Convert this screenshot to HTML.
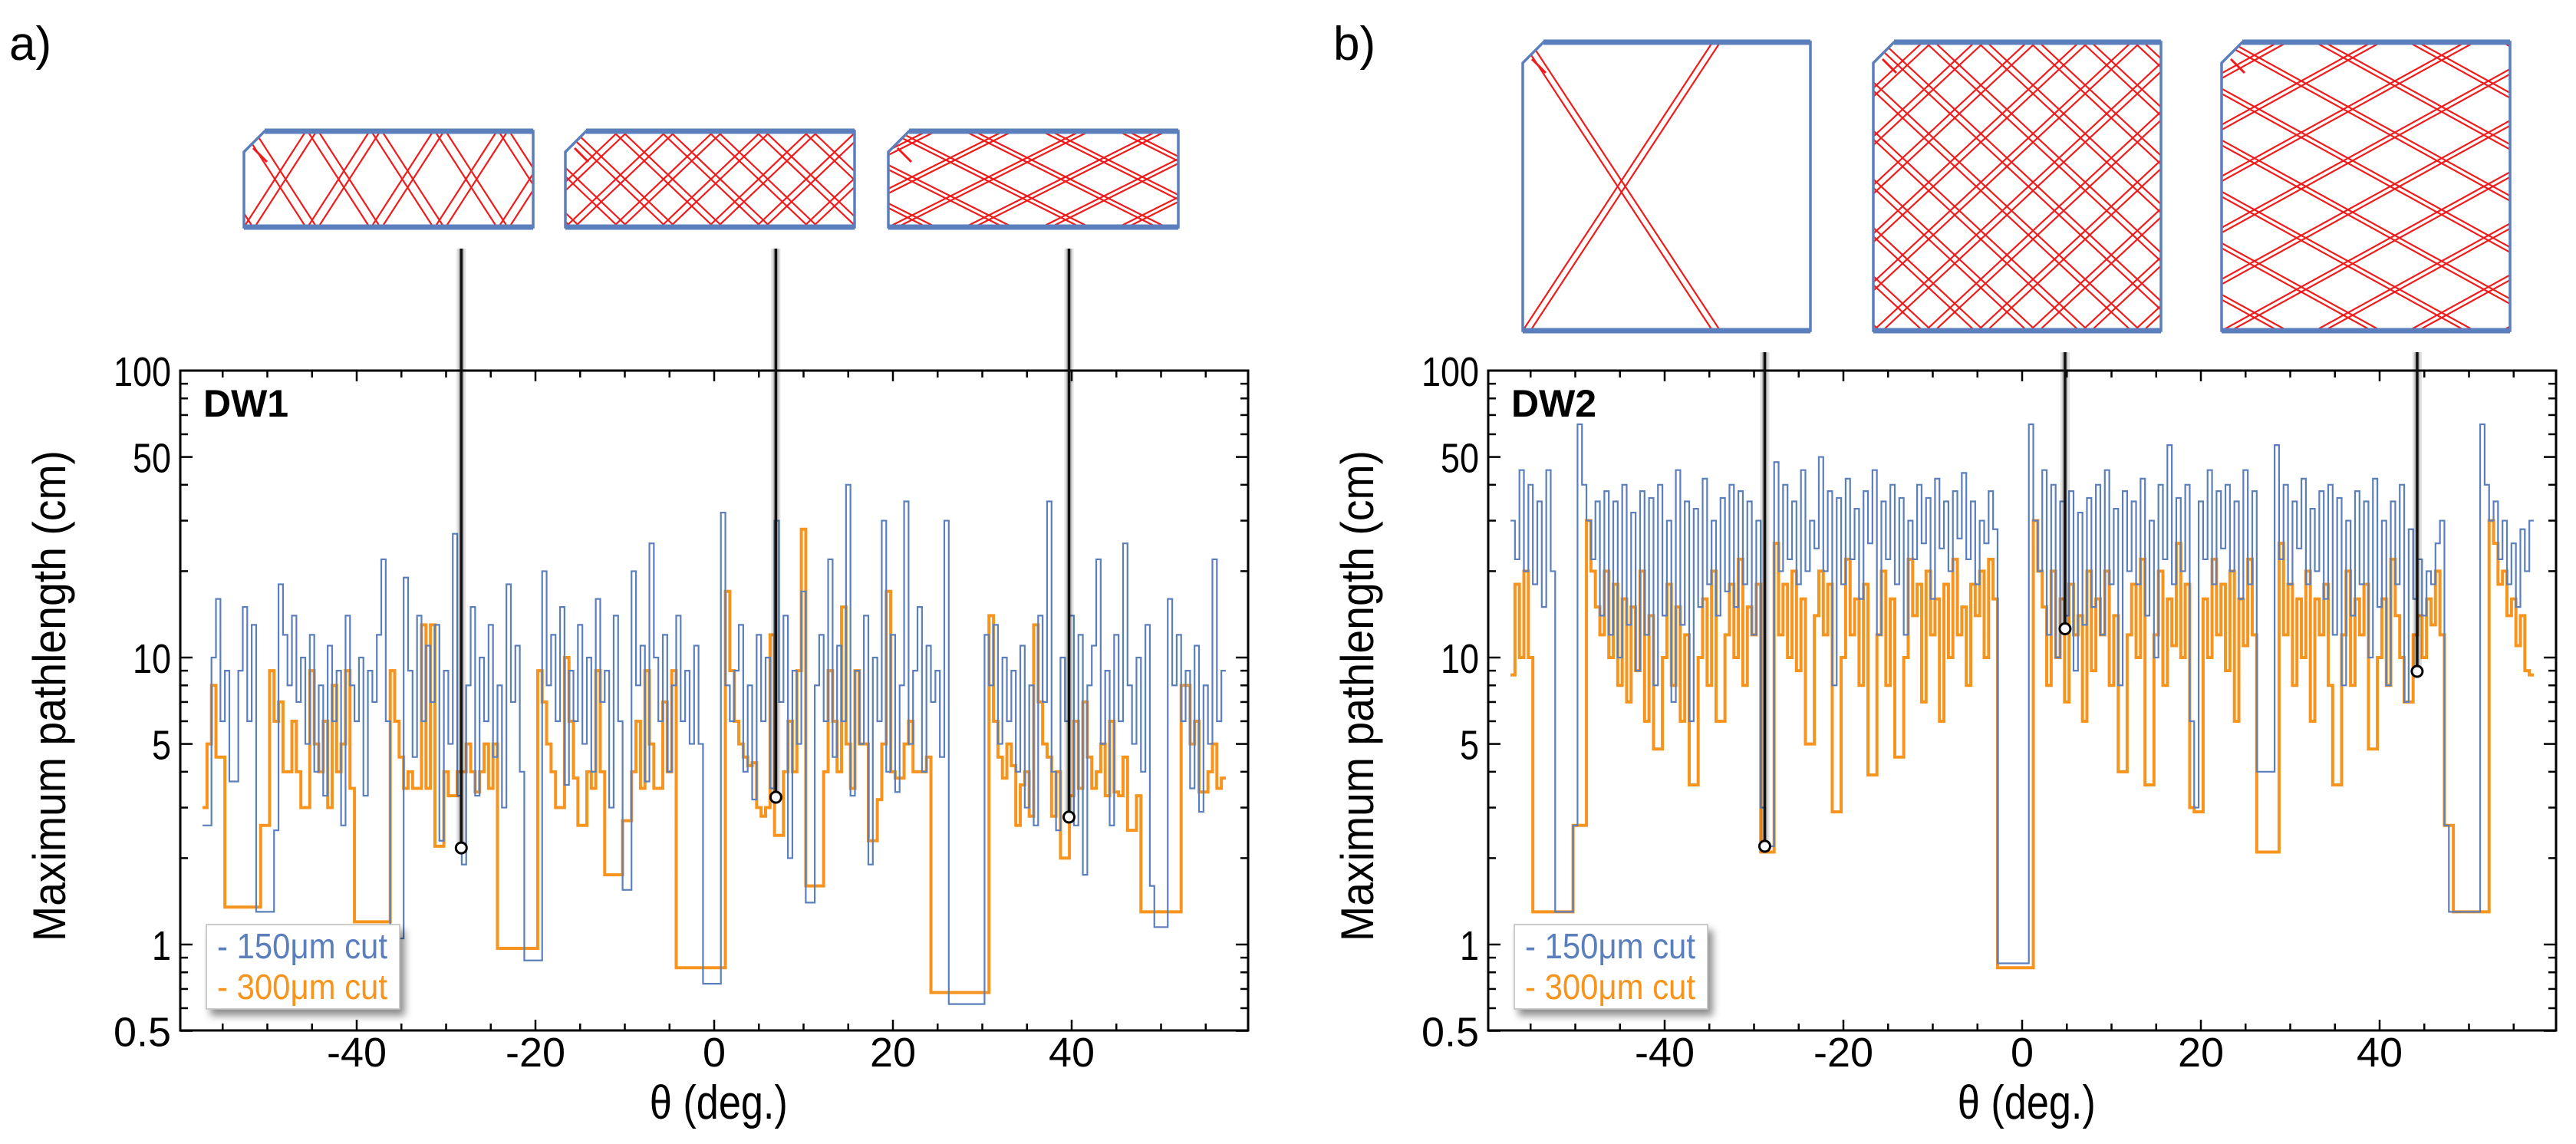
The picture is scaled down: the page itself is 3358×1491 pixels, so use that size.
<!DOCTYPE html>
<html><head><meta charset="utf-8"><style>
html,body{margin:0;padding:0;background:#fff;}
svg{display:block;font-family:"Liberation Sans",sans-serif;}
</style></head><body>
<svg id="fig" width="3358" height="1491" viewBox="0 0 3358 1491" xmlns="http://www.w3.org/2000/svg">
<defs>
<filter id="shadow" x="-10%" y="-10%" width="130%" height="140%"><feDropShadow dx="6" dy="8" stdDeviation="5" flood-color="#000" flood-opacity="0.45"/></filter>
</defs>
<text x="12" y="78" font-size="62">a)</text>
<text x="1738" y="78" font-size="62">b)</text>
<g id="root"></g>
</svg>
<script>
// ---------- data: theta grid -57..57 step 0.5 ----------
const thetaStart = -57, thetaStep = 0.5;
const xTicks = [-40, -20, 0, 20, 40];
const yTicks = [0.5, 1, 5, 10, 50, 100];
const yTickLabels = ["0.5", "1", "5", "10", "50", "100"];
const seriesNames = ["150μm cut", "300μm cut"];

const dw1_150 = [
2.6,2.6,10,16,6,9,3.7,3.7,9,15,
6,13,1.3,1.3,1.3,1.3,2.5,18,12,8,
14,7,10,5,12,4,8,3.3,11,6,
9,2.6,14,8,6,10,3.3,9,7,12,
22,6,1.05,1.05,1.05,19,9,4.5,14,6,
11,7,13,2.3,9,5,27,3.3,1.9,8,
15,3.3,10,6,13,4.5,8,3.0,18,7,
11,4,0.88,0.88,0.88,0.88,20,8,12,6,
15,3.6,9,6,13,5,10,4,16,7,
9,3.0,14,6,1.55,1.55,20,8,11,3.7,
25,10,6,12,4,8,14,6,9,5,
11,5,0.73,0.73,0.73,0.73,32,8,6,9,
13,4,8,3.2,12,6,10,3.5,30,7,
14,2.0,9,5,17,1.4,1.4,8,12,6,
22,4.5,11,6,40,3.3,9,5,14,1.9,
10,6,30,4,12,3.4,8,35,5,9,
15,4,11,7,9,4.5,30,0.62,0.62,0.62,
0.62,0.62,0.62,0.62,0.62,12,8,13,5,10,
6,9,4,11,3.0,8,2.6,14,7,35,
4,2.5,10,6,14,2.6,12,1.75,8,11,
22,5,9,2.6,12,6,25,8,5,10,
4,13,1.6,1.15,1.15,1.15,16,8,12,6,
9,3.5,11,2.9,8,5,22,6,9];
const dw1_300 = [
3.0,5,8,4.5,4.5,1.35,1.35,1.35,1.35,1.35,
1.35,1.35,1.35,2.6,2.6,9,6,7,4,4,
6,4,3.0,3.0,9,5,4,6,3.0,8,
4,5,9,3.5,1.2,1.2,1.2,1.2,1.2,1.2,
1.2,1.2,9,6,4.5,3.5,4,3.5,3.5,13,
3.5,13,2.2,2.2,4,3.3,3.3,4,4,5,
4,3.4,4,5,3.5,5,0.97,0.97,0.97,0.97,
0.97,0.97,0.97,0.97,0.97,9,7,5,4,3.0,
3.0,10,6,3.8,2.6,2.6,4,3.5,9,4,
1.75,1.75,1.75,1.75,2.7,2.7,4,6,3.5,9,
5,3.5,3.5,7,4,9,0.83,0.83,0.83,0.83,
0.83,0.83,0.83,0.83,0.83,0.83,0.83,17,9,6,
5,4.5,4.2,4.3,3.0,2.8,3,12,2.4,2.4,
4,6,4,9,28,1.6,1.6,1.6,1.6,4,
9,6,4,15,5,3.5,9,5,5,2.3,
2.3,3.2,5,17,4,3.8,3.8,5,6,4,
4,4,4.5,0.68,0.68,0.68,0.68,0.68,0.68,0.68,
0.68,0.68,0.68,0.68,0.68,0.68,14,6,4.5,3.8,
5,4.2,2.6,3.6,4,2.8,13,7,5,4.5,
2.8,4,2.0,2.0,3.3,6,3.5,7,4.5,3.5,
4,5,3.3,6,3.4,3.3,4.5,2.5,2.5,3.3,
1.3,1.3,1.3,1.3,1.3,1.3,1.3,1.3,1.3,8,
8,5,6,3.4,3.4,4,5,3.5,3.8];
const dw2_150 = [
30,22,45,20,40,18,35,15,45,20,
1.3,1.3,1.3,1.3,2.6,65,40,30,22,35,
14,38,12,35,10,40,13,32,9,38,
12,36,8,40,14,30,7,45,13,35,
6,33,15,42,18,30,14,36,17,40,
15,38,18,35,12,30,3,2.2,2.2,48,
20,40,22,35,18,45,20,30,24,50,
20,38,8,36,18,42,22,33,16,38,
25,45,12,35,22,40,18,36,12,30,
22,40,25,36,16,42,24,35,20,38,
26,44,22,35,18,30,25,38,28,0.86,
0.86,0.86,0.86,0.86,0.86,0.86,65,30,20,45,
12,40,10,35,14,38,9,32,13,36,
15,40,12,45,18,33,8,38,20,35,
18,42,14,30,10,40,22,55,18,36,
20,40,6,3.0,35,22,45,18,38,24,
40,20,35,16,45,18,38,4,4,4,
4,55,22,40,18,35,24,42,18,33,
20,38,16,40,12,36,8,30,14,38,
18,35,10,42,15,30,8,35,18,40,
7,28,16,22,14,20,18,25,30,2.6,
1.3,1.3,1.3,1.3,1.3,1.3,1.3,65,40,30,
35,22,30,18,25,15,28,20,30];
const dw2_300 = [
8.7,18,10,20,10,1.3,1.3,1.3,1.3,1.3,
1.3,1.3,1.3,1.3,2.6,2.6,2.6,30,20,15,
12,20,10,18,8,16,7,15,9,20,
6,14,4.8,4.8,10,18,8,15,6,12,
3.6,3.6,10,16,8,20,6,6,12,18,
10,22,8,15,12,18,2.1,2.1,2.1,25,
12,18,10,20,9,16,5,5,14,20,
12,18,2.9,2.9,10,22,12,16,8,18,
3.9,3.9,12,20,8,16,4.5,4.5,10,22,
14,18,7,20,12,16,6,18,10,22,
12,15,8,18,14,20,10,22,16,0.83,
0.83,0.83,0.83,0.83,0.83,0.83,0.83,30,20,15,
8,20,10,16,7,18,12,14,6,20,
9,16,12,20,8,14,4,4,12,18,
10,22,3.6,3.6,12,20,8,16,11,25,
10,18,3.0,2.9,2.9,16,10,22,12,18,
9,20,6,16,11,22,12,2.1,2.1,2.1,
2.1,2.1,25,12,18,8,16,10,20,6,
16,12,18,8,3.6,3.6,12,20,8,16,
12,18,4.8,4.8,10,16,8,22,14,10,
7,7,12,14,10,16,13,20,12,2.6,
2.6,1.3,1.3,1.3,1.3,1.3,1.3,1.3,1.3,30,
25,18,20,14,16,11,14,9,8.7];
// callout markers: theta and value
const dw1Marks = [[-28.3, 2.17], [6.9, 3.26], [39.7, 2.78]];
const dw2Marks = [[-28.8, 2.2], [4.8, 12.6], [44.2, 8.95]];

const NS = "http://www.w3.org/2000/svg";
const root = document.getElementById("root");
const BLUE = "#5b7fbd", ORANGE = "#f7941d";
function mk(tag, attrs, parent) {
  const e = document.createElementNS(NS, tag);
  for (const k in attrs) e.setAttribute(k, attrs[k]);
  (parent || root).appendChild(e);
  return e;
}
const TOP = 483, BOT = 1343, DEC = 374, PXDEG = 11.65;
function yOf(v) { return TOP + (2 - Math.log10(v)) * DEC; }

function panel(id, x0, left, right, label, s150, s300, marks, diagrams) {
  const g = mk("g", {});
  
  
  const xOf = t => x0 + t * PXDEG;
  // diagrams
  diagrams.forEach((d, di) => {
    const dg = mk("g", {}, g);
    
    
    const cid = "clip" + id + di;
    const cp = mk("clipPath", { id: cid }, dg);
    const c = 27;
    const pts = `${d.x + c},${d.y} ${d.x + d.w},${d.y} ${d.x + d.w},${d.y + d.h} ${d.x},${d.y + d.h} ${d.x},${d.y + c}`;
    mk("polygon", { points: pts }, cp);
    mk("polygon", { points: pts, fill: "#fff" }, dg);
    const lg = mk("g", { "clip-path": `url(#${cid})`, stroke: "#ee1c1c", "stroke-width": 2.2, fill: "none" }, dg);
    const run = d.h / d.s;
    const n = Math.ceil((run + d.p) / d.p) + 1;
    for (let xb = d.x - n * d.p; xb < d.x + d.w + d.p; xb += d.p) {
      for (const o of [0, d.o]) {
        mk("line", { x1: xb + o, y1: d.y + d.h, x2: xb + o + run, y2: d.y }, lg);
        mk("line", { x1: xb + o, y1: d.y, x2: xb + o + run, y2: d.y + d.h }, lg);
      }
    }
    mk("polygon", { points: pts, fill: "none", stroke: BLUE, "stroke-width": 3.5 }, dg);
    mk("line", { x1: d.x + c, y1: d.y, x2: d.x + d.w, y2: d.y, stroke: BLUE, "stroke-width": 7 }, dg);
    mk("line", { x1: d.x, y1: d.y + d.h, x2: d.x + d.w, y2: d.y + d.h, stroke: BLUE, "stroke-width": 7 }, dg);
    mk("line", { x1: d.x + 12, y1: d.y + 22, x2: d.x + 30, y2: d.y + 40, stroke: "#ee1c1c", "stroke-width": 3 }, dg);
  });
  // frame
  const fr = mk("rect", { x: left, y: TOP, width: right - left, height: BOT - TOP, fill: "none", stroke: "#000", "stroke-width": 3 }, g);
  
  
  // x ticks
  for (let t = -55; t <= 55; t += 5) {
    const X = xOf(t), L = (t % 20 === 0) ? 14 : 9;
    mk("line", { x1: X, y1: BOT, x2: X, y2: BOT - L, stroke: "#000", "stroke-width": 2.5 }, g);
    mk("line", { x1: X, y1: TOP, x2: X, y2: TOP + L, stroke: "#000", "stroke-width": 2.5 }, g);
  }
  xTicks.forEach(t => {
    const tl = mk("text", { x: xOf(t), y: 1390, "font-size": 54, "text-anchor": "middle" }, g);
    tl.textContent = String(t);
    
    
  });
  // y ticks
  const minors = [0.6,0.7,0.8,0.9,2,3,4,6,7,8,9,20,30,40,60,70,80,90];
  minors.forEach(v => {
    mk("line", { x1: left, y1: yOf(v), x2: left + 10, y2: yOf(v), stroke: "#000", "stroke-width": 2.5 }, g);
    mk("line", { x1: right, y1: yOf(v), x2: right - 10, y2: yOf(v), stroke: "#000", "stroke-width": 2.5 }, g);
  });
  yTicks.forEach((v, i) => {
    mk("line", { x1: left, y1: yOf(v), x2: left + 16, y2: yOf(v), stroke: "#000", "stroke-width": 2.5 }, g);
    mk("line", { x1: right, y1: yOf(v), x2: right - 16, y2: yOf(v), stroke: "#000", "stroke-width": 2.5 }, g);
    const tl = mk("text", { x: left - 12, y: yOf(v) + 20, "font-size": 54, "text-anchor": "end", textLength: yTickLabels[i].length * 25, lengthAdjust: "spacingAndGlyphs" }, g);
    tl.textContent = yTickLabels[i];
    
    
  });
  // axis titles
  const yt = mk("text", { x: 0, y: 0, "font-size": 60, "text-anchor": "middle", transform: `translate(${left - 150},907) rotate(-90)`, textLength: 640, lengthAdjust: "spacingAndGlyphs" }, g);
  yt.textContent = "Maximum pathlength (cm)";
  
  
  const xt = mk("text", { x: xOf(0.5), y: 1458, "font-size": 62, "text-anchor": "middle", textLength: 180, lengthAdjust: "spacingAndGlyphs" }, g);
  xt.textContent = "θ (deg.)";
  
  
  const dl = mk("text", { x: left + 30, y: 543, "font-size": 50, "font-weight": "bold" }, g);
  dl.textContent = label;
  
  
  // series
  function stepPath(arr) {
    let d = "";
    arr.forEach((v, i) => {
      const t = thetaStart + i * thetaStep;
      const xa = xOf(t - thetaStep / 2), xb = xOf(t + thetaStep / 2), y = yOf(v);
      d += (i === 0 ? `M${xa},${y}` : `L${xa},${y}`) + `L${xb},${y}`;
    });
    return d;
  }
  const p3 = mk("path", { d: stepPath(s300), fill: "none", stroke: ORANGE, "stroke-width": 4 }, g);
  
  
  const p1 = mk("path", { d: stepPath(s150), fill: "none", stroke: BLUE, "stroke-width": 2.2 }, g);
  
  
  // callouts
  marks.forEach((m, i) => {
    const X = xOf(m[0]), Y = yOf(m[1]);
    const y0 = diagrams[0].y + diagrams[0].h + 28;
    mk("line", { x1: X, y1: y0, x2: X, y2: Y, stroke: "#000", "stroke-opacity": 0.12, "stroke-width": 12 }, g);
    mk("line", { x1: X, y1: y0, x2: X, y2: Y, stroke: "#000", "stroke-opacity": 0.18, "stroke-width": 7 }, g);
    const cl = mk("line", { x1: X, y1: y0, x2: X, y2: Y, stroke: "#111", "stroke-width": 3.5 }, g);
    
    
    const dot = mk("circle", { cx: X, cy: Y, r: 7, fill: "#fff", stroke: "#000", "stroke-width": 3 }, g);
    
    
  });
  // legend
  const lgx = left + 34, lgy = 1205;
  const lg = mk("g", {}, g);
  
  
  mk("rect", { x: lgx, y: lgy, width: 252, height: 110, fill: "#fff", stroke: "#bbb", "stroke-width": 1.5, filter: "url(#shadow)" }, lg);
  [BLUE, ORANGE].forEach((col, i) => {
    const le = mk("text", { x: lgx + 14, y: lgy + 44 + i * 53, "font-size": 46, fill: col, textLength: 222, lengthAdjust: "spacingAndGlyphs" }, lg);
    le.textContent = "- " + seriesNames[i];
    
    
  });
}
panel("a", 931, 235, 1627, "DW1", dw1_150, dw1_300, dw1Marks, [
  { x: 318, y: 171, w: 377, h: 125, s: 1.55, p: 83, o: 14 },
  { x: 737, y: 171, w: 377, h: 125, s: 0.95, p: 62, o: 12 },
  { x: 1158, y: 171, w: 378, h: 125, s: 0.5, p: 100, o: 12 }]);
panel("b", 2636, 1940, 3332, "DW2", dw2_150, dw2_300, dw2Marks, [
  { x: 1985, y: 55, w: 375, h: 376, s: 1.52, p: 500, o: 10 },
  { x: 2442, y: 55, w: 375, h: 376, s: 0.93, p: 68, o: 12 },
  { x: 2896, y: 55, w: 376, h: 376, s: 0.55, p: 122, o: 12 }]);
</script>
</body></html>
